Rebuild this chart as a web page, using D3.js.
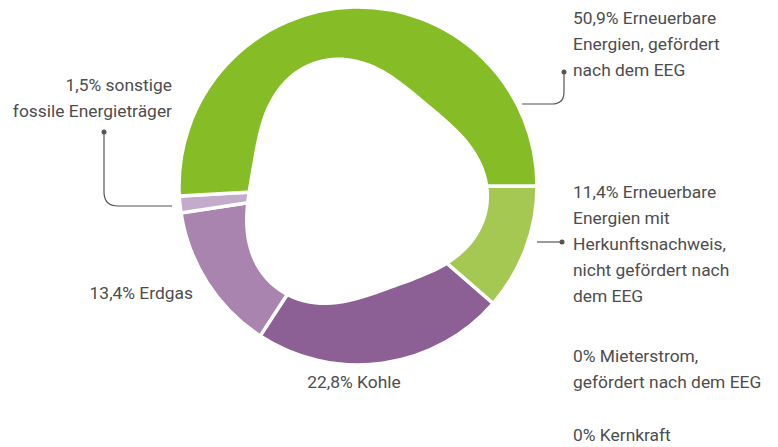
<!DOCTYPE html>
<html>
<head>
<meta charset="utf-8">
<script src="https://cdn.jsdelivr.net/npm/d3@7"></script>
<style>
    body { margin: 0; background: #fff; }
    svg { display: block; }
    .label { font-family: Roboto, sans-serif; font-size: 17.4px; fill: #4d4d4d; }
    .leader { fill: none; stroke: #555; stroke-width: 1.2; }
</style>
</head>
<body>
<div id="chart"></div>
<script>
// Slices in clockwise order starting at 3 o'clock
const categories = [
    '11,4% Erneuerbare Energien mit Herkunftsnachweis, nicht gefördert nach dem EEG',
    '22,8% Kohle',
    '13,4% Erdgas',
    '1,5% sonstige fossile Energieträger',
    '50,9% Erneuerbare Energien, gefördert nach dem EEG',
    '0% Mieterstrom, gefördert nach dem EEG',
    '0% Kernkraft'
];
const values = [11.4, 22.8, 13.4, 1.5, 50.9, 0, 0];
const colors = ['#a5c853', '#8c6095', '#a884ae', '#c4abcc', '#86bc25', '#cccccc', '#999999'];

// Label lines as shown in the chart
const labelLines = [
    ['11,4% Erneuerbare', 'Energien mit', 'Herkunftsnachweis,', 'nicht gefördert nach', 'dem EEG'],
    ['22,8% Kohle'],
    ['13,4% Erdgas'],
    ['1,5% sonstige', 'fossile Energieträger'],
    ['50,9% Erneuerbare', 'Energien, gefördert', 'nach dem EEG'],
    ['0% Mieterstrom,', 'gefördert nach dem EEG'],
    ['0% Kernkraft']
];

const width = 778;
const height = 447;
const cx = 358, cy = 186;
const outerR = 179;

const svg = d3.select('#chart')
    .append('svg')
    .attr('width', width)
    .attr('height', height);

const pie = d3.pie()
    .sort(null)
    .value(d => d)
    .startAngle(Math.PI / 2)
    .endAngle(Math.PI / 2 + 2 * Math.PI);

const arc = d3.arc()
    .innerRadius(0)
    .outerRadius(outerR);

const g = svg.append('g')
    .attr('transform', `translate(${cx},${cy})`);

g.selectAll('path.slice')
    .data(pie(values).filter(d => d.value > 0))
    .join('path')
    .attr('class', 'slice')
    .attr('d', arc)
    .attr('fill', d => colors[d.index])
    .attr('stroke', '#fff')
    .attr('stroke-width', 3.5)
    .attr('stroke-linejoin', 'miter');

// The hole in the ring is a rounded triangle rather than a circle
const holeAngles = d3.range(0, 360, 5).map(a => a * Math.PI / 180);
const hole = d3.lineRadial()
    .angle(a => a)
    .radius(a => 120 + 12 * Math.cos(3 * (a + 20 * Math.PI / 180)))
    .curve(d3.curveCardinalClosed);

g.append('path')
    .attr('d', hole(holeAngles))
    .attr('fill', '#fff');

// Labels
const labelPos = [
    { x: 573, y: 192, anchor: 'start' },
    { x: 354, y: 382, anchor: 'middle' },
    { x: 193, y: 293, anchor: 'end' },
    { x: 172, y: 85, anchor: 'end' },
    { x: 573, y: 18, anchor: 'start' },
    { x: 573, y: 356, anchor: 'start' },
    { x: 573, y: 435, anchor: 'start' }
];
const lineHeight = 26;

labelLines.forEach((lines, i) => {
    const p = labelPos[i];
    const t = svg.append('text')
        .attr('class', 'label')
        .attr('text-anchor', p.anchor)
        .attr('dominant-baseline', 'central');
    lines.forEach((line, j) => {
        t.append('tspan')
            .attr('x', p.x)
            .attr('y', p.y + j * lineHeight)
            .text(line);
    });
});

// Leader lines with end dots
const leaders = [
    { d: 'M537,242 H562', dot: [562, 242] },
    { d: 'M522,104 H552 Q564,104 564,92 V72', dot: [564, 72] },
    { d: 'M172,206 H118 Q104,206 104,192 V132', dot: [104, 132] }
];

leaders.forEach(l => {
    svg.append('path').attr('class', 'leader').attr('d', l.d);
    svg.append('circle')
        .attr('cx', l.dot[0])
        .attr('cy', l.dot[1])
        .attr('r', 2.5)
        .attr('fill', '#555');
});
</script>
</body>
</html>
